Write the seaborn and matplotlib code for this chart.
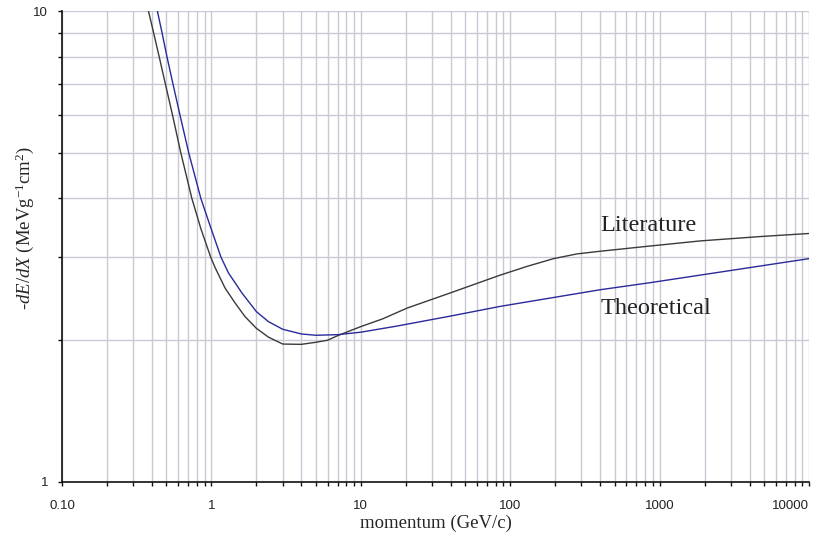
import matplotlib
matplotlib.use("Agg")
import matplotlib.pyplot as plt
import matplotlib.ticker as mticker
import seaborn as sns
import pandas as pd

# ---- data ----
lit_p = [0.35, 0.379, 0.410, 0.447, 0.492, 0.550, 0.624, 0.74, 0.85, 0.99, 1.06, 1.235,
         1.44, 1.68, 2.0, 2.41, 3.0, 4.0, 5.0, 6.0, 7.0, 9.0, 10.1, 14.0, 20.4, 39.7,
         85.9, 130, 195, 280, 401, 867, 1875, 4730, 10000]
lit_v = [11.3, 10.0, 9.0, 8.0, 7.0, 6.0, 5.0, 4.0, 3.45, 3.0, 2.85, 2.58,
         2.40, 2.244, 2.12, 2.03, 1.963, 1.96, 1.98, 2.0, 2.045, 2.11, 2.14, 2.22, 2.34, 2.52,
         2.75, 2.87, 2.98, 3.05, 3.09, 3.17, 3.25, 3.32, 3.37]

theo_p = [0.40, 0.435, 0.467, 0.504, 0.553, 0.617, 0.705, 0.85, 0.98, 1.16, 1.30, 1.60,
          2.0, 2.41, 3.0, 4.0, 5.0, 7.0, 10.0, 17.0, 39.7, 85.9, 401, 867, 10000]
theo_v = [11.4, 10.0, 9.0, 8.0, 7.0, 6.0, 5.0, 4.0, 3.50, 3.0, 2.78, 2.52,
          2.30, 2.19, 2.11, 2.062, 2.049, 2.055, 2.08, 2.14, 2.25, 2.36, 2.56, 2.65, 2.98]

x_ticks = [0.1, 1, 10, 100, 1000, 10000]
x_tick_labels = ["0.10", "1", "10", "100", "1000", "10000"]
y_ticks = [1, 10]
y_tick_labels = ["1", "10"]

labels = ["Literature", "Theoretical"]
label_pos = [(402, 3.50), (402, 2.33)]

# ---- styling ----
sns.set_theme(style="white")
plt.rcParams["font.family"] = ["Liberation Sans", "DejaVu Sans"]
plt.rcParams["mathtext.fontset"] = "custom"
plt.rcParams["mathtext.rm"] = "Liberation Serif"
plt.rcParams["mathtext.it"] = "Liberation Serif:italic"

df = pd.concat([
    pd.DataFrame({"p": lit_p, "v": lit_v, "series": labels[0]}),
    pd.DataFrame({"p": theo_p, "v": theo_v, "series": labels[1]}),
])

fig = plt.figure(figsize=(8.17, 5.36), dpi=100)
ax = fig.add_axes([62 / 817, 1 - 482 / 536, 747 / 817, 471 / 536])

sns.lineplot(data=df, x="p", y="v", hue="series", sort=False, estimator=None,
             palette={labels[0]: "#3a3a3a", labels[1]: "#2a2a9a"},
             linewidth=1.0, legend=False, ax=ax)

ax.set_xscale("log")
ax.set_yscale("log")
ax.set_xlim(0.1, 10000)
ax.set_ylim(1, 10)

ax.xaxis.set_minor_locator(mticker.LogLocator(base=10, subs=range(2, 10), numticks=20))
ax.xaxis.set_minor_formatter(mticker.NullFormatter())
ax.set_xticks(x_ticks)
ax.set_xticklabels(x_tick_labels)
ax.yaxis.set_minor_locator(mticker.LogLocator(base=10, subs=range(2, 10), numticks=20))
ax.yaxis.set_minor_formatter(mticker.NullFormatter())
ax.set_yticks(y_ticks)
ax.set_yticklabels(y_tick_labels)

ax.grid(which="both", color="#c9c9d3", linewidth=1.0)
ax.set_axisbelow(True)

for s in ["top", "right"]:
    ax.spines[s].set_visible(False)
for s in ["left", "bottom"]:
    ax.spines[s].set_color("#111111")
    ax.spines[s].set_linewidth(1.2)

ax.tick_params(axis="x", which="both", direction="out", length=3, width=1, color="#111111",
               bottom=True, labelsize=9.5, pad=10, labelcolor="#222222")
ax.tick_params(axis="y", which="both", direction="out", length=3, width=1, color="#111111",
               left=True, labelsize=9.5, pad=7, labelcolor="#222222")
xt = ax.get_xticklabels()
xt[-1].set_horizontalalignment("right")

ax.set_xlabel("momentum (GeV/c)", fontsize=13.5, family="Liberation Serif", va="center")
ax.xaxis.set_label_coords(0.5, -0.087)
ax.set_ylabel(r"-$dE/dX$ (MeVg$^{-1}$cm$^{2}$)", fontsize=13.5, family="Liberation Serif",
              va="center")
ax.yaxis.set_label_coords(-0.0495, 0.539)

for t, (px, py) in zip(labels, label_pos):
    ax.text(px, py, t, fontsize=17.5, family="Liberation Serif", color="#222222",
            ha="left", va="center")

fig.savefig("out.png", dpi=100)
